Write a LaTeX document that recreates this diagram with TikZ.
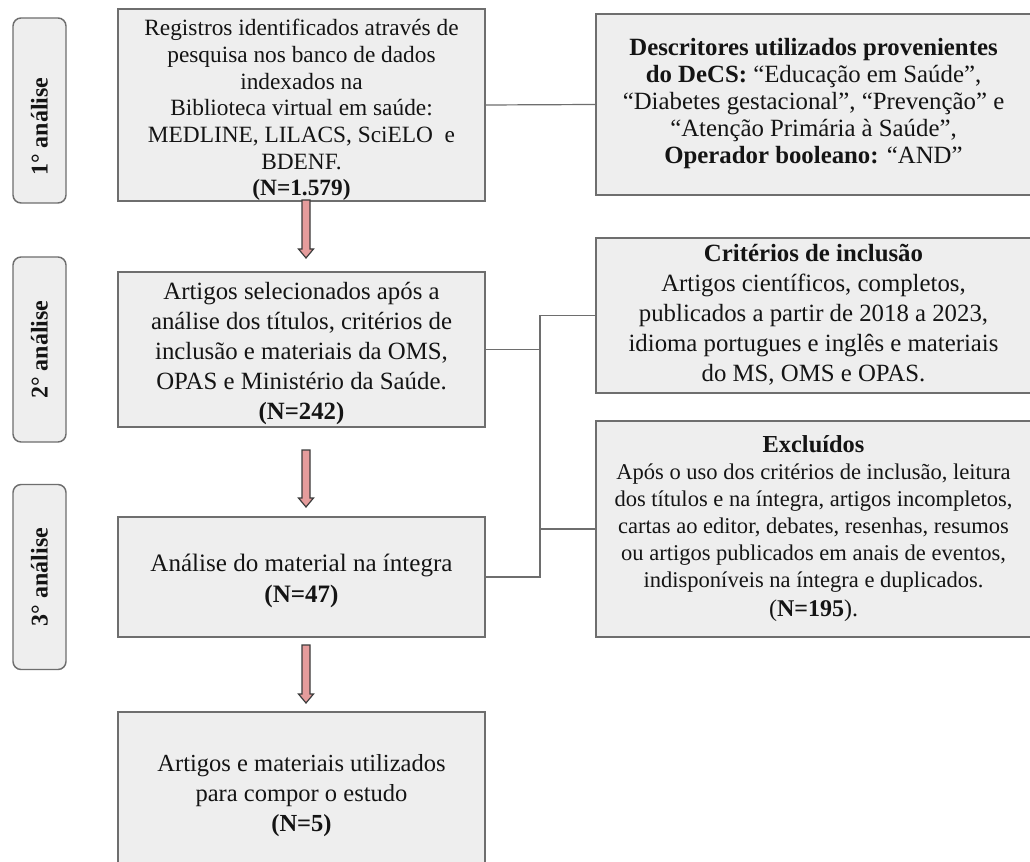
\documentclass[tikz,border=0pt]{standalone}
\usepackage{fontspec}
\setmainfont{Liberation Serif}
\usetikzlibrary{calc}
\definecolor{boxfill}{HTML}{EEEEEE}
\definecolor{boxline}{HTML}{6E6E6E}
\definecolor{arrowfill}{HTML}{E59C9C}
\definecolor{arrowline}{HTML}{3C3C3C}
\definecolor{txt}{HTML}{141414}
\tikzset{
  mainbox/.style={draw=boxline, line width=1.1pt, fill=boxfill, inner sep=0pt,
    align=center, text=txt, minimum width=#1},
  mainbox/.default=275.25pt,
  sidebox/.style={draw=boxline, line width=1.1pt, fill=boxfill, inner sep=0pt,
    text=txt, minimum width=348pt},
  phasebox/.style={draw=boxline, line width=1.1pt, fill=boxfill, rounded corners=6pt,
    rotate=90, minimum width=138.75pt, minimum height=39.75pt, inner sep=0pt,
    text=txt, font=\fontsize{18}{20}\selectfont\bfseries},
  link/.style={draw=boxline, line width=0.9pt},
  arrowbody/.style={fill=arrowfill, draw=arrowline, line width=0.9pt, line join=miter}
}
\newcommand{\topstrut}[1]{\rule{0pt}{#1}}
\newcommand{\fatarrow}[2]{\path[arrowbody] ($(#1)+(-4,0)$) -- ($(#2)+(-4,-9)$) -- ($(#2)+(-7.5,-9)$) -- (#2) -- ($(#2)+(7.5,-9)$) -- ($(#2)+(4,-9)$) -- ($(#1)+(4,0)$) -- cycle;}
\newcommand{\sidetext}[1]{\begin{tabular}{@{}c@{}}#1\end{tabular}\rule{21.75pt}{0pt}}
\begin{document}
\begin{tikzpicture}[x=0.75pt,y=-0.75pt]
\useasboundingbox (0,0) rectangle (1030,862);
\fill[white] (0,0) rectangle (1030,862);
\clip (0,0) rectangle (1030,862);

% phase labels
\node[phasebox] (p1) at (39.5,110.5) {1° análise\rule{24pt}{0pt}};
\node[phasebox] (p2) at (39.5,349.5) {2° análise};
\node[phasebox] (p3) at (39.5,577) {3° análise};

% main column
\node[mainbox, minimum height=138pt, font=\fontsize{17.5}{20}\selectfont] (b1) at (301.5,105)
  {\topstrut{1.15em}Registros identificados através de\\ pesquisa nos banco de dados\\ indexados na\\ Biblioteca virtual em saúde:\\ MEDLINE, LILACS, SciELO\ \ e\\ BDENF.\\ \textbf{(N=1.579)}};
\node[mainbox, minimum height=116.25pt, font=\fontsize{18.6}{22.5}\selectfont] (b2) at (301.5,349.5)
  {\topstrut{1.05em}Artigos selecionados após a\\ análise dos títulos, critérios de\\ inclusão e materiais da OMS,\\ OPAS e Ministério da Saúde.\\ \textbf{(N=242)}};
\node[mainbox, minimum height=90pt, font=\fontsize{18.8}{23.8}\selectfont] (b3) at (301.5,577)
  {\topstrut{1.01em}Análise do material na íntegra\\ \textbf{(N=47)}};
\node[mainbox, minimum height=126pt, font=\fontsize{18.4}{22.5}\selectfont] (b4) at (301.5,796)
  {\topstrut{0.86em}Artigos e materiais utilizados\\ para compor o estudo\\ \textbf{(N=5)}\rule[-7.5pt]{0pt}{0pt}};

% right column
\node[sidebox, minimum height=135.75pt, font=\fontsize{18.6}{20.25}\selectfont] (r1) at (828,104.5)
  {\sidetext{\textbf{Descritores utilizados provenientes}\\ \textbf{do DeCS:} “Educação em Saúde”,\\ “Diabetes gestacional”, “Prevenção” e\\ “Atenção Primária à Saúde”,\\ \textbf{Operador booleano:} “AND”}};
\node[sidebox, minimum height=116.25pt, font=\fontsize{18.6}{22.5}\selectfont] (r2) at (828,315.5)
  {\sidetext{\textbf{Critérios de inclusão}\\ Artigos científicos, completos,\\ publicados a partir de 2018 a 2023,\\ idioma portugues e inglês e materiais\\ do MS, OMS e OPAS.}};
\node[sidebox, minimum height=162pt, font=\fontsize{16.9}{20.25}\selectfont] (r3) at (828,529)
  {\sidetext{{\fontsize{18.3}{20.25}\selectfont\textbf{Excluídos}}\\ Após o uso dos critérios de inclusão, leitura\\ dos títulos e na íntegra, artigos incompletos,\\ cartas ao editor, debates, resenhas, resumos\\ ou artigos publicados em anais de eventos,\\ indisponíveis na íntegra e duplicados.\\[2pt] {\fontsize{18}{20.25}\selectfont(\textbf{N=195}).}}};

% connectors
\coordinate (jx) at (540,0);
\draw[link] (b1.east) -- (r1.west);
\draw[link] (b2.east) -- (b2.east -| jx);
\draw[link] (r2.west) -- (r2.west -| jx) -- (b3.east -| jx) -- (b3.east);
\draw[link] (r3.west) -- (r3.west -| jx);

% block arrows
\coordinate (a1s) at (306,200);
\coordinate (a1e) at (306,258);
\coordinate (a2s) at (306,450);
\coordinate (a2e) at (306,507);
\coordinate (a3s) at (306,645);
\coordinate (a3e) at (306,703);
\fatarrow{a1s}{a1e}
\fatarrow{a2s}{a2e}
\fatarrow{a3s}{a3e}
\end{tikzpicture}
\end{document}
